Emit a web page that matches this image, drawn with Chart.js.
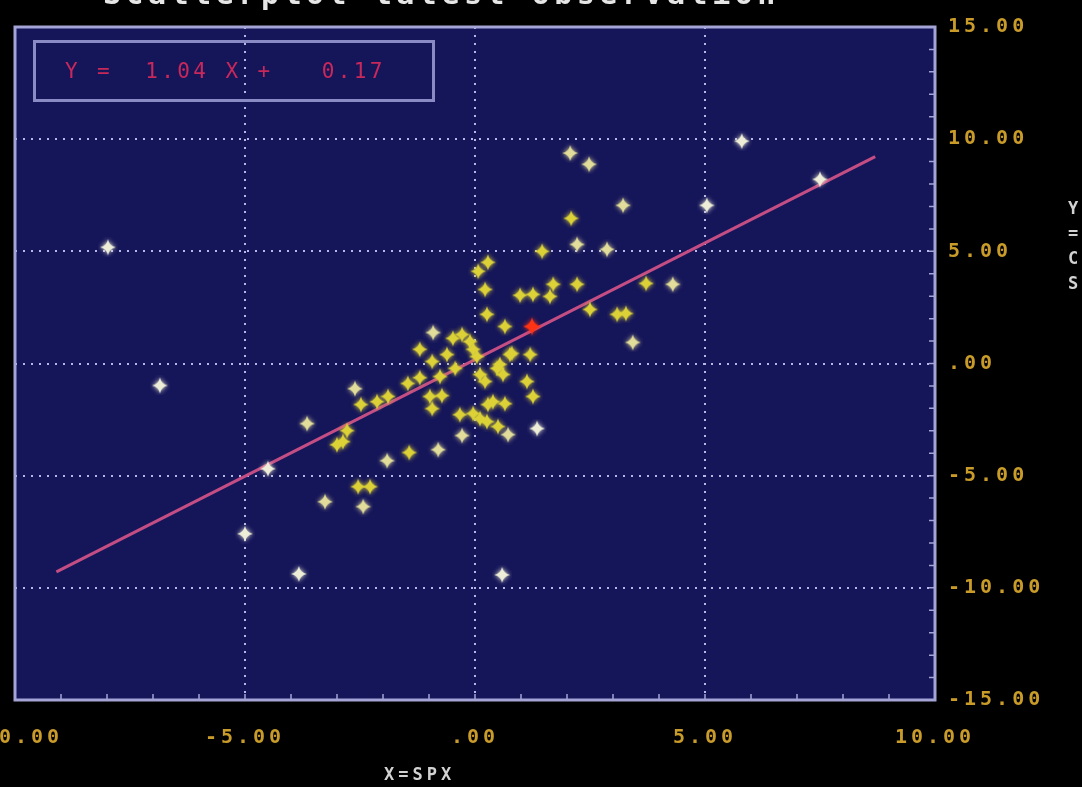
<!doctype html>
<html>
<head>
<meta charset="utf-8">
<title>Y=CS vs X=SPX</title>
<style>
  html, body { margin: 0; background: #000; overflow: hidden; }
  .wrap { position: relative; width: 1082px; height: 787px; overflow: hidden; }
  canvas { position: absolute; left: 0; top: 0; }
  .title { position: absolute; left: 103px; top: -21px; color: #e6e6e6; white-space: pre;
           font: bold 30px "DejaVu Sans Mono", monospace; letter-spacing: 4.5px; line-height: 30px; }
  .eq { position: absolute; left: 33px; top: 40px; width: 402px; height: 62px; box-sizing: border-box;
        border: 3px solid #8a8ac4; padding-left: 29px; color: #c8285a; white-space: pre;
        font: 21px "DejaVu Sans Mono", monospace; letter-spacing: 3.4px; line-height: 56px; }
  .xname { position: absolute; left: 384px; top: 764px; color: #d2d2d2;
           font: bold 17px "DejaVu Sans Mono", monospace; letter-spacing: 4px; }
  .yname { position: absolute; left: 1063px; top: 196px; width: 20px; text-align: center; color: #d2d2d2;
           font: bold 17px "DejaVu Sans Mono", monospace; line-height: 25px; }
</style>
</head>
<body>
<div class="wrap">
  <canvas id="c" width="1082" height="787"></canvas>
  <div class="title">Scatterplot latest observation</div>
  <div class="eq">Y =  1.04 X +   0.17</div>
  <div class="xname">X=SPX</div>
  <div class="yname">Y<br>=<br>C<br>S</div>
</div>
<script src="https://cdn.jsdelivr.net/npm/chart.js"></script>
<script>
// tick values and their printed labels
const xTicks = [-10, -5, 0, 5, 10];
const xTickLabels = ["-10.00", "-5.00", ".00", "5.00", "10.00"];
const yTicks = [-15, -10, -5, 0, 5, 10, 15];
const yTickLabels = ["-15.00", "-10.00", "-5.00", ".00", "5.00", "10.00", "15.00"];

const coreX = [-3.00, -2.87, -2.78, -2.48, -2.13, -1.89, -2.54, -2.28, -1.43, -1.46, -1.20, -1.20, -0.98, -0.72,
  -0.93, -0.76, -0.61, -0.48, -0.28, -0.11, -0.04, 0.04, -0.43, -0.93, -0.33, -0.04, 0.11, 0.26, 0.11, 0.22,
  0.48, 0.61, 0.76, 1.13, 1.20, 1.26, 0.50, 0.39, 0.65, 0.28, 0.07, 0.28, 0.22, 0.26, 0.65, 0.98, 1.26, 1.63,
  1.70, 1.46, 2.22, 2.09, 3.09, 3.28, 3.72, 2.50, 0.80, 0.54];
const coreY = [-3.62, -3.48, -2.99, -1.83, -1.70, -1.47, -5.49, -5.49, -3.97, -0.89, -0.63, 0.63, -1.47, -1.43,
  -2.01, -0.58, 0.40, 1.12, 1.29, 0.98, 0.63, 0.31, -0.22, 0.09, -2.28, -2.23, -2.46, -2.59, -0.49, -0.80,
  -0.22, -0.49, 0.40, -0.80, 0.40, -1.47, -2.81, -1.70, -1.79, -1.83, 4.11, 4.51, 3.30, 2.19, 1.65, 3.04, 3.08, 2.99,
  3.53, 5.00, 3.53, 6.47, 2.19, 2.23, 3.57, 2.41, 0.45, -0.04];

const lightX = [2.07, 2.48, 3.22, 4.30, 3.43, -3.65, -1.91, -3.26, -2.43, -0.80, -0.28, 0.72, 2.22, 2.87, -2.61, -0.91];
const lightY = [9.38, 8.88, 7.05, 3.53, 0.94, -2.68, -4.33, -6.16, -6.38, -3.84, -3.21, -3.17, 5.31, 5.09, -1.12, 1.38];

const paleX = [-7.98, -6.85, -5.00, -4.50, -3.83, 0.59, 1.35, 5.04, 5.80, 7.50];
const paleY = [5.18, -0.98, -7.59, -4.69, -9.38, -9.42, -2.90, 7.05, 9.91, 8.21];

const latestX = [1.24];
const latestY = [1.65];

// fitted line Y = 1.04 X + 0.17, ends as drawn
const lineX = [-9.1, 8.7];
const lineY = [-9.29, 9.22];

function pts(xs, ys) {
  return xs.map((x, i) => ({ x: x, y: ys[i] }));
}

// four-pointed glowing star used as the marker
function starImage(color, size) {
  const c = document.createElement("canvas");
  c.width = c.height = size;
  const g = c.getContext("2d");
  const m = size / 2, r = size / 2 - 2, w = size * 0.07;
  g.shadowColor = color;
  g.shadowBlur = 5;
  g.fillStyle = color;
  g.beginPath();
  g.moveTo(m, m - r);
  g.quadraticCurveTo(m + w, m - w, m + r, m);
  g.quadraticCurveTo(m + w, m + w, m, m + r);
  g.quadraticCurveTo(m - w, m + w, m - r, m);
  g.quadraticCurveTo(m - w, m - w, m, m - r);
  g.fill();
  g.shadowBlur = 0;
  g.beginPath();
  g.arc(m, m, size * 0.14, 0, Math.PI * 2);
  g.fill();
  return c;
}

const tickColor = "#c99c2a";
const tickFont = { family: "DejaVu Sans Mono", size: 20, weight: "bold" };

const frame = {
  id: "frame",
  beforeUpdate(chart) { chart.ctx.letterSpacing = "4px"; },
  beforeDraw(chart) {
    const { ctx, chartArea: a } = chart;
    ctx.letterSpacing = "4px";
    ctx.save();
    ctx.fillStyle = "#15155a";
    ctx.fillRect(a.left, a.top, a.right - a.left, a.bottom - a.top);
    ctx.restore();
  },
  beforeDatasetsDraw(chart) {
    const { ctx, chartArea: a, scales } = chart;
    ctx.save();
    ctx.strokeStyle = "#a4a4d6";
    ctx.lineWidth = 1.5;
    ctx.beginPath();
    for (let v = -10; v <= 10; v++) {
      const px = scales.x.getPixelForValue(v);
      ctx.moveTo(px, a.bottom);
      ctx.lineTo(px, a.bottom - 6);
    }
    for (let v = -15; v <= 15; v++) {
      const py = scales.y.getPixelForValue(v);
      ctx.moveTo(a.right, py);
      ctx.lineTo(a.right - 6, py);
    }
    ctx.stroke();
    ctx.lineWidth = 3;
    ctx.strokeRect(a.left, a.top, a.right - a.left, a.bottom - a.top);
    ctx.restore();
  }
};

new Chart(document.getElementById("c"), {
  type: "scatter",
  plugins: [frame],
  data: {
    datasets: [
      {
        type: "line",
        label: "fit",
        data: pts(lineX, lineY),
        borderColor: "#c44e84",
        borderWidth: 3,
        pointRadius: 0,
        order: 10
      },
      { label: "core", data: pts(coreX, coreY), pointStyle: starImage("#dcd238", 20), order: 3 },
      { label: "light", data: pts(lightX, lightY), pointStyle: starImage("#e2dd9a", 20), order: 2 },
      { label: "pale", data: pts(paleX, paleY), pointStyle: starImage("#eeeed8", 20), order: 2 },
      { label: "latest", data: pts(latestX, latestY), pointStyle: starImage("#ff3414", 22), order: 1 }
    ]
  },
  options: {
    responsive: false,
    animation: false,
    events: [],
    layout: { padding: { left: 15, top: 27, right: 0, bottom: 0 } },
    plugins: { legend: { display: false }, tooltip: { enabled: false } },
    scales: {
      x: {
        type: "linear",
        min: -10,
        max: 10,
        ticks: {
          stepSize: 5,
          autoSkip: false,
          maxRotation: 0,
          padding: 26,
          color: tickColor,
          font: tickFont,
          callback: (v) => xTickLabels[xTicks.indexOf(v)] ?? ""
        },
        grid: { color: "#b8b8e8", lineWidth: 2, drawTicks: false },
        border: { display: false, dash: [2, 6] },
        afterFit(s) { s.height = 87; s.paddingLeft = 0; s.paddingRight = 0; }
      },
      y: {
        type: "linear",
        position: "right",
        min: -15,
        max: 15,
        ticks: {
          stepSize: 5,
          autoSkip: false,
          padding: 13,
          color: tickColor,
          font: tickFont,
          callback: (v) => yTickLabels[yTicks.indexOf(v)] ?? ""
        },
        grid: { color: "#b8b8e8", lineWidth: 2, drawTicks: false },
        border: { display: false, dash: [2, 6] },
        afterFit(s) { s.width = 147; s.paddingTop = 0; s.paddingBottom = 0; }
      }
    }
  }
});
</script>
</body>
</html>
